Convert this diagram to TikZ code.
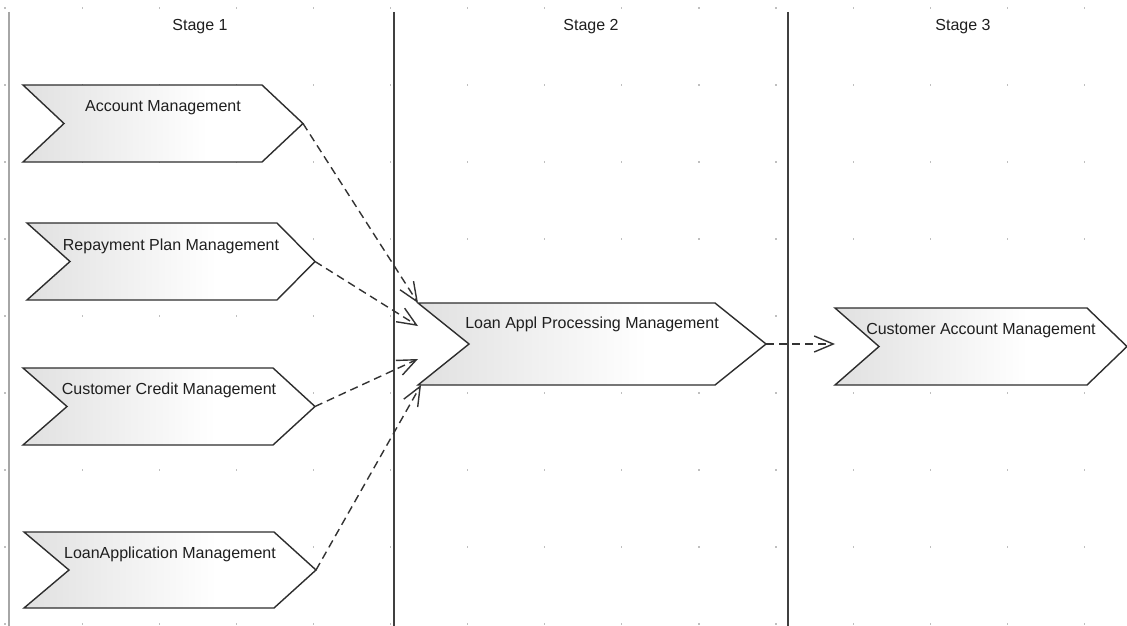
\documentclass[tikz,border=0pt]{standalone}
\usepackage{fontspec}
\setmainfont{Liberation Sans}
\usetikzlibrary{arrows.meta}
\pgfdeclarehorizontalshading{chevshade}{100bp}{color(0bp)=(black!12); color(25bp)=(black!12); color(58bp)=(white); color(100bp)=(white)}
\newcommand\mychev[3]{%
  \shadedraw[chev] (#1.north west) -- ([xshift=-#3pt]#1.north east) -- (#1.east)
    -- ([xshift=-#3pt]#1.south east) -- (#1.south west) -- ([xshift=#2pt]#1.west) -- cycle;}
\begin{document}
\begin{tikzpicture}[x=1pt,y=-1pt,
  frame/.style={inner sep=0pt, outer sep=0pt, draw=none},
  chev/.style={shading=chevshade, draw=black!82, line width=1.4pt, line join=miter},
  lbl/.style={font=\fontsize{16}{19}\selectfont, text=black!88, inner sep=0pt, anchor=base},
  lane/.style={line width=1.5pt, draw=black!75},
  dep/.style={draw=black!80, line width=1.4pt, dash pattern=on 8pt off 5pt,
    -{Straight Barb[length=19pt,width=16pt,line width=1.4pt]}},
  gdot/.style={fill=black!25, draw=none}]
\useasboundingbox (0,0) rectangle (1127,626);
\fill[white] (0,0) rectangle (1127,626);
% grid dots
\foreach \i in {0,...,14}{\foreach \j in {0,...,8}{
  \fill[gdot] ({5+77.1*\i-0.6},{8+77*\j-0.6}) rectangle ++(1.2,1.2);}}
% lanes
\draw[line width=1.5pt, draw=black!35] (9,12) -- (9,626);
\draw[lane] (394,12) -- (394,626);
\draw[lane] (788,12) -- (788,626);
\node[lbl] (s1) at (200,31) {Stage 1};
\node[lbl] (s2) at (591,31) {Stage 2};
\node[lbl] (s3) at (963,31) {Stage 3};
% chevron frames
\node[frame, minimum width=280pt, minimum height=77pt] (am) at (163,123.5) {};
\node[frame, minimum width=288pt, minimum height=77pt] (rp) at (171,261.5) {};
\node[frame, minimum width=292pt, minimum height=77pt] (cc) at (169,406.5) {};
\node[frame, minimum width=292pt, minimum height=76pt] (la) at (170,570) {};
\node[frame, minimum width=348pt, minimum height=82pt] (lap) at (592,344) {};
\node[frame, minimum width=292pt, minimum height=77pt] (ca) at (981,346.5) {};
\mychev{am}{41}{41}
\mychev{rp}{43}{38}
\mychev{cc}{44}{42}
\mychev{la}{45}{42}
\mychev{lap}{51}{51}
\mychev{ca}{44}{40}
\node[lbl] (amt) at ([yshift=-26pt]am.north) {Account Management};
\node[lbl] (rpt) at ([yshift=-27pt]rp.north) {Repayment Plan Management};
\node[lbl] (cct) at ([yshift=-26pt]cc.north) {Customer Credit Management};
\node[lbl] (lat) at ([yshift=-26pt]la.north) {LoanApplication Management};
\node[lbl] (lapt) at ([yshift=-25pt]lap.north) {Loan Appl Processing Management};
\node[lbl] (cat) at ([yshift=-26pt]ca.north) {Customer Account Management};
% dependencies
\coordinate (t2) at ([yshift=-23pt]lap.north west);
\coordinate (t3) at ([yshift=-56pt]lap.north west);
\draw[dep] (am.east) -- (lap.north west);
\draw[dep] (rp.east) -- (t2);
\draw[dep] (cc.east) -- (t3);
\draw[dep] (la.east) -- ([xshift=3pt]lap.south west);
\draw[dep] (lap.east) -- (lap.east -| ca.west);
\end{tikzpicture}
\end{document}
